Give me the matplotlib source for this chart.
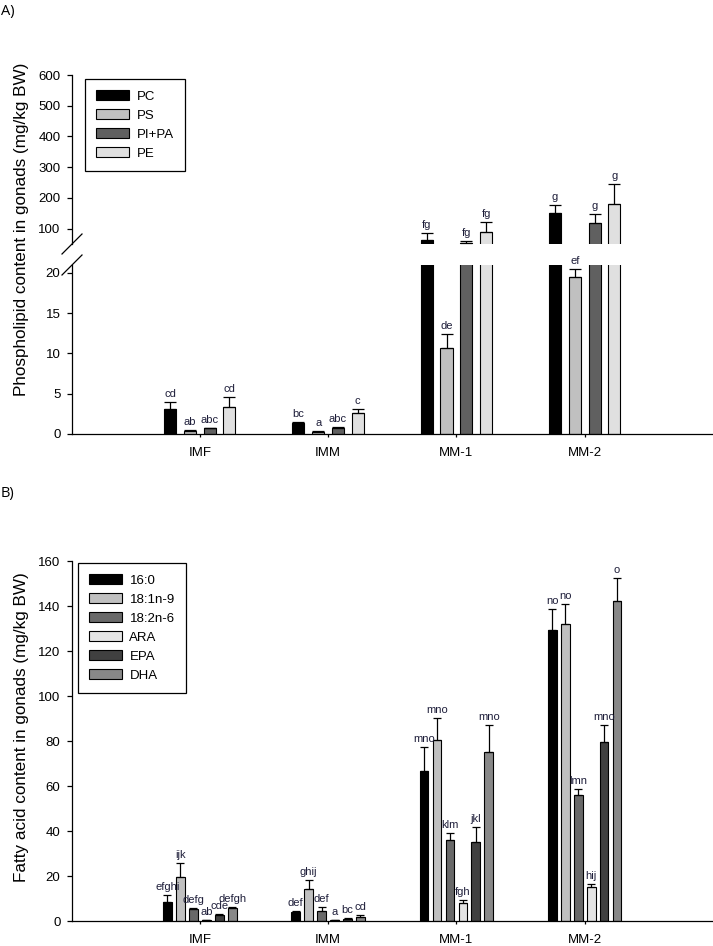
import numpy as np
import matplotlib
matplotlib.use("Agg")
import matplotlib.pyplot as plt
from matplotlib.patches import Patch
from matplotlib.lines import Line2D

plt.rcParams['font.family'] = ['Liberation Sans', 'DejaVu Sans']

W, H = 713, 946

groups = ['IMF', 'IMM', 'MM-1', 'MM-2']

# A) phospholipids (mg/kg BW): mean, upper error, letters
pl_names = ['PC', 'PS', 'PI+PA', 'PE']
pl_colors = ['#000000', '#c0c0c0', '#606060', '#e0e0e0']
pc = [3.1, 1.4, 63, 150]
pc_err = [0.9, 0.1, 23, 27]
ps = [0.4, 0.3, 10.7, 19.5]
ps_err = [0.1, 0.05, 1.7, 1.0]
pipa = [0.7, 0.8, 53, 118]
pipa_err = [0.1, 0.1, 7, 29]
pe = [3.4, 2.6, 89, 180]
pe_err = [1.2, 0.5, 33, 65]
pc_let = ['cd', 'bc', 'fg', 'g']
ps_let = ['ab', 'a', 'de', 'ef']
pipa_let = ['abc', 'abc', 'fg', 'g']
pe_let = ['cd', 'c', 'fg', 'g']

# B) fatty acids (mg/kg BW)
fa_names = ['16:0', '18:1n-9', '18:2n-6', 'ARA', 'EPA', 'DHA']
fa_colors = ['#000000', '#c0c0c0', '#696969', '#e4e4e4', '#404040', '#888888']
fa160 = [8.4, 4.2, 66.7, 129.3]
fa160_err = [3.2, 0.3, 10.6, 9.4]
fa181 = [19.6, 14.3, 80.5, 132]
fa181_err = [6.2, 3.9, 9.7, 8.9]
fa182 = [5.3, 4.6, 36, 56]
fa182_err = [0.5, 1.6, 3.1, 2.7]
ara = [0.5, 0.3, 8.0, 15.1]
ara_err = [0.1, 0.1, 1.3, 1.3]
epa = [2.7, 1.1, 35.1, 79.6]
epa_err = [0.3, 0.2, 6.7, 7.5]
dha = [5.8, 2.0, 75.1, 142.2]
dha_err = [0.4, 0.8, 12, 10.2]
fa160_let = ['efghi', 'def', 'mno', 'no']
fa181_let = ['ijk', 'ghij', 'mno', 'no']
fa182_let = ['defg', 'def', 'klm', 'lmn']
ara_let = ['ab', 'a', 'fgh', 'hij']
epa_let = ['cde', 'bc', 'jkl', 'mno']
dha_let = ['defgh', 'cd', 'mno', 'o']

txt_col = '#1e1e3a'
fs_tick = 9.5
fs_let = 8


def px_box(left, top, right, bottom):
    return [left / W, 1 - bottom / H, (right - left) / W, (bottom - top) / H]


def style(ax):
    for s in ['top', 'right']:
        ax.spines[s].set_visible(False)
    for s in ['left', 'bottom']:
        ax.spines[s].set_linewidth(0.9)
    ax.tick_params(direction='out', length=3.5, width=0.9, labelsize=fs_tick, pad=4.5)
    ax.tick_params(axis='x', length=2.5, pad=7)
    ax.set_xlim(0, 5)


def add_legend(ax, names, colors, left, top):
    leg = ax.legend(handles=[Patch(facecolor=c, edgecolor='black', linewidth=0.8, label=n)
                             for c, n in zip(colors, names)],
                    loc='upper left', bbox_to_anchor=(left / W, 1 - top / H),
                    bbox_transform=fig.transFigure, borderaxespad=0, fancybox=False,
                    edgecolor='black', framealpha=1, fontsize=fs_tick, handlelength=2.5,
                    handleheight=0.75, labelspacing=0.5, borderpad=0.85, handletextpad=0.55)
    leg.get_frame().set_linewidth(0.9)
    return leg


fig = plt.figure(figsize=(W / 100, H / 100), dpi=100)
ax_hi = fig.add_axes(px_box(71.5, 75, 713, 244))
ax_lo = fig.add_axes(px_box(71.5, 264.7, 713, 434))
ax_b = fig.add_axes(px_box(71.5, 561, 713, 921))

x = np.arange(1, 5)

# ---- panel A (broken axis)
pl_vals = [pc, ps, pipa, pe]
pl_errs = [pc_err, ps_err, pipa_err, pe_err]
pl_lets = [pc_let, ps_let, pipa_let, pe_let]
w_a = 0.094
for i in range(4):
    xi = x + (i - 1.5) * 0.154
    v = np.array(pl_vals[i])
    e = np.array(pl_errs[i])
    for ax in (ax_hi, ax_lo):
        ax.bar(xi, v, w_a, color=pl_colors[i], edgecolor='black', linewidth=0.8)
    for j in range(4):
        ax = ax_hi if v[j] > 21 else ax_lo
        ax.errorbar(xi[j], v[j], yerr=[[0], [e[j]]], fmt='none', ecolor='black',
                    elinewidth=0.9, capsize=4, capthick=0.9)
        ax.annotate(pl_lets[i][j], (xi[j], v[j] + e[j]), xytext=(0, 2),
                    textcoords='offset points', ha='center', va='bottom',
                    fontsize=fs_let, color=txt_col, annotation_clip=False)

style(ax_hi)
style(ax_lo)
ax_hi.set_ylim(50, 600)
ax_hi.set_yticks([100, 200, 300, 400, 500, 600])
ax_hi.spines['bottom'].set_visible(False)
ax_hi.set_xticks([])
ax_lo.set_ylim(0, 21)
ax_lo.set_yticks([0, 5, 10, 15, 20])
ax_lo.set_xticks(x)
ax_lo.set_xticklabels(groups)

# break marks
for (x0, y0, x1, y1) in [(62, 254, 82, 234), (62, 275, 82, 255)]:
    fig.add_artist(Line2D([x0 / W, x1 / W], [1 - y0 / H, 1 - y1 / H],
                          color='black', linewidth=0.9))

add_legend(ax_lo, pl_names, pl_colors, 85, 79)

# ---- panel B
fa_vals = [fa160, fa181, fa182, ara, epa, dha]
fa_errs = [fa160_err, fa181_err, fa182_err, ara_err, epa_err, dha_err]
fa_lets = [fa160_let, fa181_let, fa182_let, ara_let, epa_let, dha_let]
w_b = 0.068
for i in range(6):
    xi = x + (i - 2.5) * 0.101
    v = np.array(fa_vals[i])
    e = np.array(fa_errs[i])
    ax_b.bar(xi, v, w_b, color=fa_colors[i], edgecolor='black', linewidth=0.8)
    ax_b.errorbar(xi, v, yerr=[np.zeros(4), e], fmt='none', ecolor='black',
                  elinewidth=0.9, capsize=3.2, capthick=0.9)
    for j in range(4):
        ax_b.annotate(fa_lets[i][j], (xi[j], v[j] + e[j]), xytext=(0, 2),
                      textcoords='offset points', ha='center', va='bottom',
                      fontsize=fs_let, color=txt_col, annotation_clip=False)

style(ax_b)
ax_b.set_ylim(0, 160)
ax_b.set_yticks(range(0, 161, 20))
ax_b.set_xticks(x)
ax_b.set_xticklabels(groups)
add_legend(ax_b, fa_names, fa_colors, 78, 563)

# labels
fig.text(22 / W, 1 - 229 / H, 'Phospholipid content in gonads (mg/kg BW)',
         rotation=90, ha='center', va='center', fontsize=12.3)
fig.text(22 / W, 1 - 727 / H, 'Fatty acid content in gonads (mg/kg BW)',
         rotation=90, ha='center', va='center', fontsize=12.3)
fig.text(1 / W, 1 - 11 / H, 'A)', ha='left', va='center', fontsize=10.5,
         family=['Open Sans', 'DejaVu Sans'])
fig.text(1 / W, 1 - 493 / H, 'B)', ha='left', va='center', fontsize=10.5,
         family=['Open Sans', 'DejaVu Sans'])

fig.savefig('out.png', dpi=100)
